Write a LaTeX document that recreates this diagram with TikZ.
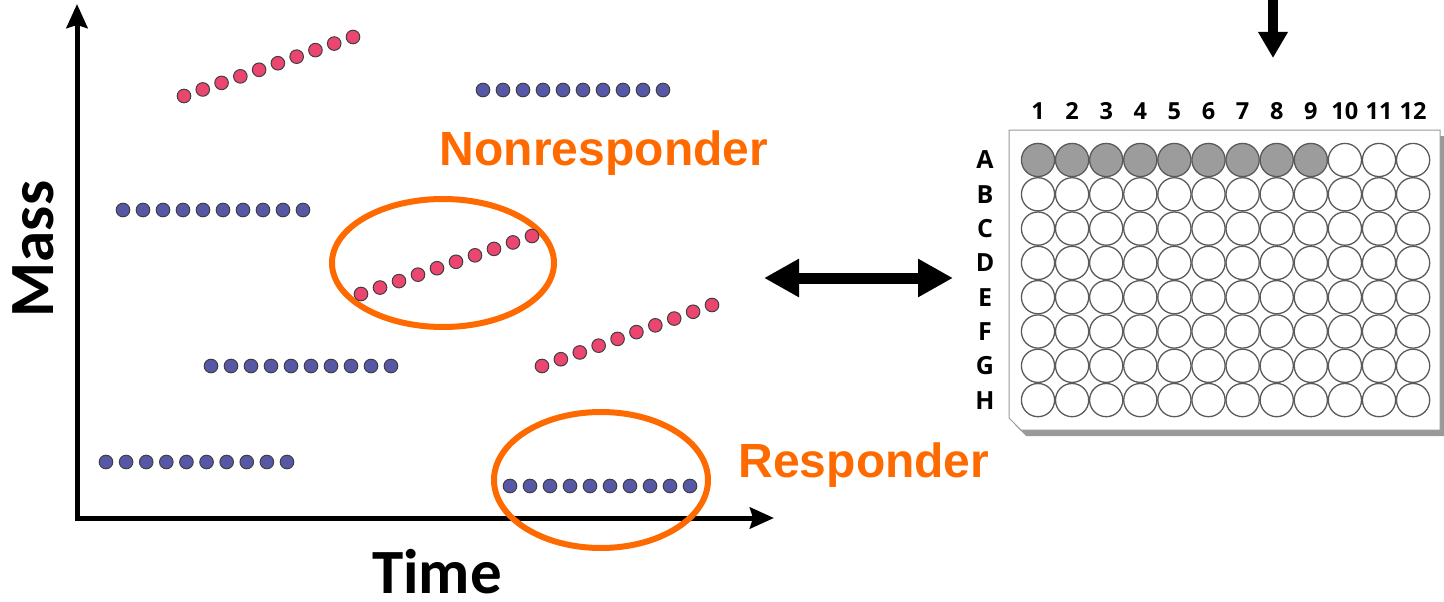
\documentclass[tikz,border=0pt]{standalone}
\usepackage{fontspec}
\setmainfont{Carlito}
\newfontfamily\calloutfont{Liberation Sans}
\newfontfamily\platefont{Open Sans}
\usetikzlibrary{arrows.meta}
\definecolor{hitring}{HTML}{FF6A00}
\definecolor{bluedot}{HTML}{5757A8}
\definecolor{pinkdot}{HTML}{EB4570}
\definecolor{wellfill}{HTML}{9C9C9C}
\definecolor{wellline}{HTML}{5A5A5A}
\tikzset{
  bdot/.style={fill=bluedot, draw=black!75, line width=1pt},
  pdot/.style={fill=pinkdot, draw=black!75, line width=1pt},
  ring/.style={draw=hitring, line width=6pt},
  axis/.style={line width=5pt, line join=miter},
  bigtxt/.style={font=\bfseries\fontsize{63}{63}\selectfont, inner sep=0pt},
  calltxt/.style={font=\calloutfont\bfseries\fontsize{48}{48}\selectfont, text=hitring},
  platelbl/.style={font=\platefont\bfseries\fontsize{23.5}{23.5}\selectfont},
  rowlbl/.style={font=\platefont\bfseries\fontsize{25}{25}\selectfont},
  well/.style={draw=wellline, line width=1.3pt, fill=white},
  fullwell/.style={draw=wellline, line width=1.3pt, fill=wellfill},
  fatarrow/.style={line width=11pt},
}
% a row of ten dots from (#2,#3) to (#4,#5)
\newcommand{\dotrow}[5]{%
  \foreach \k in {0,...,9}{%
    \pgfmathsetmacro{\dx}{#2+(#4-#2)*\k/9}%
    \pgfmathsetmacro{\dy}{#3+(#5-#3)*\k/9}%
    \path[#1] (\dx,\dy) circle[radius=6.8];
  }}
\begin{document}
\begin{tikzpicture}[x=1pt,y=-1pt]
\useasboundingbox (0,0) rectangle (1444,602);

% axes
\coordinate (ytip) at (77,4);
\coordinate (origin) at (77,518);
\coordinate (xtip) at (774,518);
\draw[axis, {Stealth[length=24pt,width=21pt,inset=3pt]}-{Stealth[length=24pt,width=21pt,inset=3pt]}]
  (ytip) -- (origin) -- (xtip);
\node[bigtxt, rotate=90] (masslbl) at (33,249) {Mass};
\node[bigtxt] (timelbl) at (437,572) {Time};

% highlight rings
\draw[ring] (443,263) ellipse[x radius=111, y radius=64];
\draw[ring] (601,480) ellipse[x radius=107, y radius=68];

% signal traces
\dotrow{pdot}{184}{96}{353}{37}
\dotrow{bdot}{483}{90}{663}{90}
\dotrow{bdot}{123}{210}{303}{210}
\dotrow{pdot}{361}{294}{532}{236}
\dotrow{pdot}{542}{366}{712}{305}
\dotrow{bdot}{211}{366}{391}{366}
\dotrow{bdot}{106}{462}{287}{462}
\dotrow{bdot}{510}{486}{690}{486}

\node[calltxt] (nonresp) at (604,153) {Nonresponder};
\node[calltxt] (resp) at (864,465) {Responder};

% link between chart and plate
\coordinate (linkl) at (764,278);
\coordinate (linkr) at (953,278);
\draw[fatarrow, {Triangle[length=35pt,width=36pt]}-{Triangle[length=35pt,width=36pt]}] (linkl) -- (linkr);

% incoming arrow
\coordinate (instart) at (1273,0);
\coordinate (inend) at (1273,58);
\draw[line width=10pt, -{Triangle[length=26pt,width=28pt]}] (instart) -- (inend);

% 96-well plate
\fill[black!40] (1015,136) -- (1444,136) -- (1444,436) -- (1026,436) -- (1015,425) -- cycle;
\draw[black!40, line width=1pt, fill=white] (1009,130) -- (1440,130) -- (1440,430) -- (1021,430) -- (1009,418) -- cycle;
\foreach \c in {1,...,12}{
  \node[platelbl] (col\c) at ({1038+(\c-1)*34.1},111) {\c};
}
\foreach \r [count=\ri] in {A,B,C,D,E,F,G,H}{
  \node[rowlbl] (row\r) at (985,{160+(\ri-1)*34.3}) {\r};
  \foreach \c in {1,...,12}{
    \pgfmathsetmacro{\wx}{1038+(\c-1)*34.1}
    \pgfmathsetmacro{\wy}{160+(\ri-1)*34.3}
    \ifnum\ri=1
      \ifnum\c<10
        \path[fullwell] (\wx,\wy) circle[radius=16.6];
      \else
        \path[well] (\wx,\wy) circle[radius=16.6];
      \fi
    \else
      \path[well] (\wx,\wy) circle[radius=16.6];
    \fi
  }
}
\end{tikzpicture}
\end{document}
